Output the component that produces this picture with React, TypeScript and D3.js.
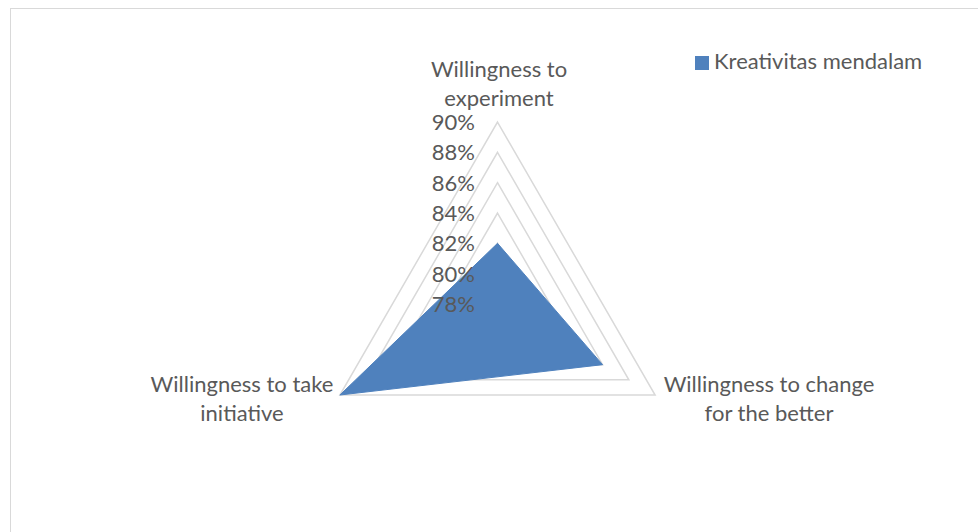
import React from 'react';
import * as d3 from 'd3';

const categories = ['Willingness to experiment', 'Willingness to change for the better', 'Willingness to take initiative'];
const categoryLines = [
  ['Willingness to', 'experiment'],
  ['Willingness to change', 'for the better'],
  ['Willingness to take', 'initiative'],
];
const seriesName = 'Kreativitas mendalam';
const values = [82, 86, 90];
const ticks = [78, 80, 82, 84, 86, 88, 90];

const W = 978;
const H = 532;
const cx = 497.5;
const cy = 304;
const R = 182;
const FONT = 'Lato, "Open Sans", sans-serif';
const TEXT = '#595959';
const FS = 22;

export default function App() {
  const r = d3.scaleLinear().domain([78, 90]).range([0, R]);
  const angle = (i: number) => (i * 2 * Math.PI) / categories.length;

  const radial = d3
    .lineRadial<number>()
    .angle((_, i) => angle(i))
    .radius((d) => r(d))
    .curve(d3.curveLinearClosed);

  const ring = (t: number) => radial(categories.map(() => t)) ?? '';

  // label anchors
  const labelPos = [
    { x: 499, y: 77 },
    { x: 769, y: 392 },
    { x: 242, y: 392 },
  ];

  return (
    <svg width={W} height={H} style={{ position: 'absolute', left: 0, top: 0, background: '#fff' }} fontFamily={FONT}>
      <rect x={10.5} y={8.5} width={975} height={530} fill="#fff" stroke="#d9d9d9" strokeWidth={1} />
      <g transform={`translate(${cx},${cy})`}>
        {ticks.slice(1).map((t) => (
          <path key={t} d={ring(t)} fill="none" stroke="#d9d9d9" strokeWidth={1.5} />
        ))}
        <path d={radial(values) ?? ''} fill="#4f81bd" stroke="#4f81bd" strokeWidth={1} />
      </g>
      {ticks.map((t) => (
        <text key={t} x={475} y={cy - r(t) + 8} textAnchor="end" fontSize={FS} fill={TEXT}>
          {`${t}%`}
        </text>
      ))}
      {categoryLines.map((lines, i) => (
        <text key={i} x={labelPos[i].x} y={labelPos[i].y} textAnchor="middle" fontSize={FS} fill={TEXT}>
          {lines.map((l, j) => (
            <tspan key={j} x={labelPos[i].x} dy={j === 0 ? 0 : 29}>
              {l}
            </tspan>
          ))}
        </text>
      ))}
      <rect x={695} y={56} width={14} height={14} fill="#4f81bd" />
      <text x={714} y={69} fontSize={FS} fill={TEXT}>
        {seriesName}
      </text>
    </svg>
  );
}
